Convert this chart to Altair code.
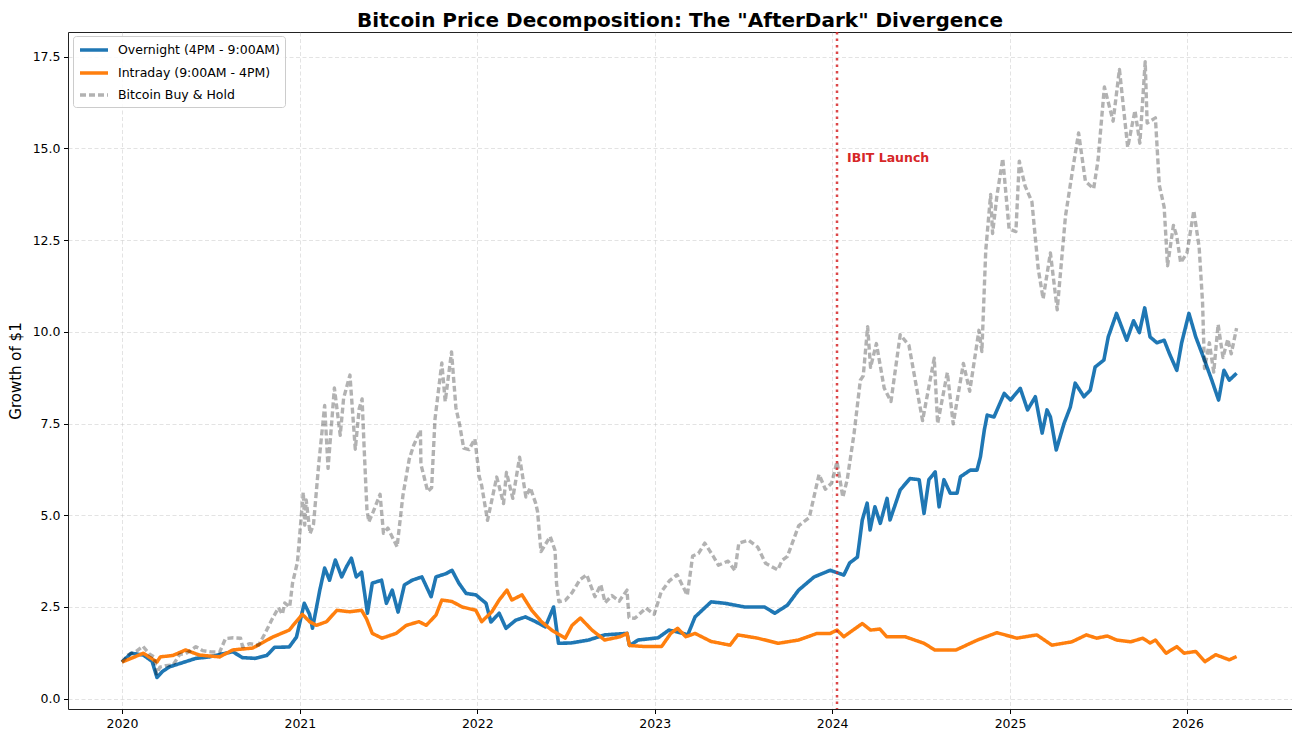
import altair as alt
import pandas as pd

# ---------------- data ----------------
series_names = ["Overnight (4PM - 9:00AM)", "Intraday (9:00AM - 4PM)", "Bitcoin Buy & Hold"]

overnight_dates = [
    "2020-01-01", "2020-01-20", "2020-02-14", "2020-03-03", "2020-03-13", "2020-03-25", "2020-04-08",
    "2020-05-11", "2020-06-01", "2020-06-29", "2020-07-25", "2020-08-16", "2020-09-05", "2020-10-01",
    "2020-10-25", "2020-11-10", "2020-12-10", "2020-12-25",
    "2021-01-10", "2021-01-21", "2021-01-27", "2021-02-11", "2021-02-21", "2021-03-03", "2021-03-15",
    "2021-03-28", "2021-04-07", "2021-04-17", "2021-04-27", "2021-05-08", "2021-05-20", "2021-05-30",
    "2021-06-18", "2021-06-28", "2021-07-10", "2021-07-22", "2021-08-04", "2021-08-20", "2021-09-09",
    "2021-09-28", "2021-10-08", "2021-10-29", "2021-11-10", "2021-11-24", "2021-12-09", "2021-12-29",
    "2022-01-19", "2022-01-29", "2022-02-15", "2022-03-01", "2022-03-21", "2022-04-10", "2022-05-01",
    "2022-05-21", "2022-06-07", "2022-06-17",
    "2022-07-13", "2022-08-18", "2022-09-20", "2022-11-05", "2022-11-10", "2022-11-28", "2023-01-08",
    "2023-01-30", "2023-02-17", "2023-03-10", "2023-03-25", "2023-04-27", "2023-05-26", "2023-07-05",
    "2023-08-15", "2023-09-05", "2023-10-01", "2023-10-24", "2023-11-25", "2023-12-28", "2024-01-25",
    "2024-02-06",
    "2024-02-22", "2024-03-03", "2024-03-13", "2024-03-19", "2024-03-29", "2024-04-09", "2024-04-23",
    "2024-04-29", "2024-05-20", "2024-06-09", "2024-06-28", "2024-07-08", "2024-07-18", "2024-07-31",
    "2024-08-08", "2024-08-18", "2024-08-31", "2024-09-14", "2024-09-21", "2024-10-11", "2024-10-25",
    "2024-11-01", "2024-11-09", "2024-11-15", "2024-11-29", "2024-12-20", "2025-01-02", "2025-01-22",
    "2025-02-06", "2025-02-22", "2025-03-08", "2025-03-18", "2025-03-25", "2025-04-06", "2025-04-22",
    "2025-05-05", "2025-05-15", "2025-06-02", "2025-06-15", "2025-06-25", "2025-07-13",
    "2025-07-22", "2025-08-08", "2025-08-29", "2025-09-12", "2025-09-24", "2025-10-05", "2025-10-16",
    "2025-10-30", "2025-11-14", "2025-11-25", "2025-12-10", "2025-12-20", "2026-01-04", "2026-01-18",
    "2026-02-03", "2026-02-20", "2026-03-06", "2026-03-17", "2026-03-28", "2026-04-12",
]
overnight_values = [
    1.00, 1.24, 1.19, 1.02, 0.58, 0.75, 0.87,
    1.01, 1.10, 1.14, 1.22, 1.28, 1.12, 1.10,
    1.18, 1.40, 1.41, 1.68,
    2.60, 2.30, 1.92, 2.96, 3.56, 3.23, 3.78,
    3.32, 3.60, 3.83, 3.32, 3.45, 2.33, 3.15,
    3.23, 2.60, 2.96, 2.36, 3.10, 3.23, 3.32,
    2.78, 3.32, 3.41, 3.50, 3.15, 2.87, 2.83,
    2.60, 2.09, 2.33, 1.92, 2.14, 2.23, 2.10,
    1.96, 2.50, 1.51,
    1.52, 1.60, 1.74, 1.78, 1.45, 1.60, 1.66,
    1.87, 1.82, 1.74, 2.23, 2.64, 2.60, 2.50,
    2.50, 2.33, 2.55, 2.96, 3.32, 3.50, 3.37,
    3.70,
    3.86, 4.87, 5.33, 4.60, 5.23, 4.78, 5.46,
    4.87, 5.69, 6.00, 5.97, 5.05, 5.97, 6.18,
    5.23, 5.97, 5.60, 5.60, 6.05, 6.23, 6.23,
    6.59, 7.32, 7.73, 7.68, 8.32, 8.14, 8.46,
    7.87, 8.23, 7.24, 7.87, 7.68, 6.78, 7.50,
    7.95, 8.60, 8.23, 8.41, 9.04, 9.23,
    9.86, 10.50, 9.77, 10.30, 9.98, 10.65, 9.86,
    9.70, 9.77, 9.40, 8.95, 9.70, 10.50, 9.86,
    9.30, 8.68, 8.14, 8.95, 8.68, 8.87,
]

intraday_dates = [
    "2020-01-01", "2020-01-20", "2020-02-14", "2020-03-13", "2020-03-20", "2020-04-15", "2020-05-11",
    "2020-06-08", "2020-07-20", "2020-08-16", "2020-09-26", "2020-11-06", "2020-12-10",
    "2021-01-06", "2021-01-21", "2021-02-04", "2021-02-25", "2021-03-18", "2021-04-13", "2021-05-08",
    "2021-05-18", "2021-05-30", "2021-06-19", "2021-07-18", "2021-08-08", "2021-09-03", "2021-09-18",
    "2021-10-08", "2021-10-20", "2021-11-10", "2021-12-01", "2021-12-29", "2022-01-10", "2022-01-31",
    "2022-02-15", "2022-03-03", "2022-03-13", "2022-04-03", "2022-04-23", "2022-05-13", "2022-06-03",
    "2022-07-01",
    "2022-07-15", "2022-08-01", "2022-08-25", "2022-09-20", "2022-10-22",
    "2022-11-05", "2022-11-10", "2022-12-15", "2023-01-15", "2023-02-03", "2023-02-17", "2023-03-06",
    "2023-03-25", "2023-04-27", "2023-06-05", "2023-06-21", "2023-08-01", "2023-09-12", "2023-10-24",
    "2023-12-01", "2023-12-28", "2024-01-11", "2024-01-25", "2024-03-03", "2024-03-20", "2024-04-08",
    "2024-04-22", "2024-05-30", "2024-07-08", "2024-07-30", "2024-09-12", "2024-10-26", "2024-12-05",
    "2025-01-15", "2025-02-25", "2025-03-28", "2025-05-08", "2025-06-07", "2025-06-28", "2025-07-20",
    "2025-08-08", "2025-09-06", "2025-10-01", "2025-10-16", "2025-10-27", "2025-11-18", "2025-12-10",
    "2025-12-25", "2026-01-18", "2026-02-06", "2026-02-28", "2026-03-28", "2026-04-12",
]
intraday_values = [
    1.00, 1.10, 1.24, 1.00, 1.14, 1.18, 1.33,
    1.19, 1.14, 1.33, 1.38, 1.68, 1.87,
    2.30, 2.10, 2.00, 2.10, 2.41, 2.37, 2.41,
    2.18, 1.78, 1.65, 1.78, 2.00, 2.10, 2.00,
    2.28, 2.69, 2.65, 2.50, 2.41, 2.10, 2.37,
    2.69, 2.96, 2.69, 2.83, 2.41, 2.10, 1.87,
    1.65,
    2.00, 2.20, 1.87, 1.60, 1.69,
    1.78, 1.45, 1.42, 1.42, 1.78, 1.92, 1.69,
    1.78, 1.56, 1.46, 1.74, 1.65, 1.51, 1.60,
    1.78, 1.78, 1.87, 1.69, 2.05, 1.87, 1.90,
    1.69, 1.69, 1.51, 1.33, 1.33, 1.60, 1.80,
    1.65, 1.74, 1.46, 1.55, 1.74, 1.65, 1.71,
    1.60, 1.55, 1.65, 1.52, 1.60, 1.24, 1.42,
    1.24, 1.29, 1.01, 1.20, 1.06, 1.15,
]

buyhold_dates = [
    "2020-01-01", "2020-01-14", "2020-01-31", "2020-02-13", "2020-02-27", "2020-03-08", "2020-03-12",
    "2020-03-19", "2020-03-31", "2020-04-15", "2020-04-29", "2020-05-10", "2020-05-20", "2020-06-01",
    "2020-06-15", "2020-07-01", "2020-07-20", "2020-08-01", "2020-08-17", "2020-09-01", "2020-09-05",
    "2020-09-20", "2020-10-08", "2020-10-21", "2020-11-05", "2020-11-18", "2020-11-26", "2020-12-01",
    "2020-12-11", "2020-12-17", "2020-12-27", "2021-01-08", "2021-01-11", "2021-01-14", "2021-01-22",
    "2021-01-29", "2021-02-09", "2021-02-21", "2021-02-28", "2021-03-13", "2021-03-25", "2021-04-01",
    "2021-04-14", "2021-04-25", "2021-05-03", "2021-05-09", "2021-05-13", "2021-05-19", "2021-05-23",
    "2021-06-01", "2021-06-15", "2021-06-22", "2021-07-01", "2021-07-20", "2021-08-01", "2021-08-14",
    "2021-08-23", "2021-09-06", "2021-09-07", "2021-09-21", "2021-09-29", "2021-10-06", "2021-10-20",
    "2021-10-27", "2021-11-09", "2021-11-18", "2021-11-26", "2021-12-04", "2021-12-15", "2021-12-27",
    "2022-01-05", "2022-01-10", "2022-01-22", "2022-02-10", "2022-02-24", "2022-03-02", "2022-03-15",
    "2022-03-29", "2022-04-11", "2022-04-20", "2022-05-01", "2022-05-05", "2022-05-12", "2022-05-31",
    "2022-06-10", "2022-06-13", "2022-06-18", "2022-07-01", "2022-07-15", "2022-07-31", "2022-08-14",
    "2022-08-31", "2022-09-12", "2022-09-21", "2022-10-05", "2022-10-20", "2022-11-05", "2022-11-09",
    "2022-11-21", "2022-12-14", "2022-12-31", "2023-01-14", "2023-01-31", "2023-02-16", "2023-03-09",
    "2023-03-20", "2023-04-01", "2023-04-14", "2023-05-01", "2023-05-12", "2023-06-01", "2023-06-15",
    "2023-06-23", "2023-07-13", "2023-08-01", "2023-08-17", "2023-09-11", "2023-09-20", "2023-10-01",
    "2023-10-24", "2023-11-15", "2023-12-05", "2023-12-18", "2023-12-31", "2024-01-11", "2024-01-23",
    "2024-02-01", "2024-02-15", "2024-02-28", "2024-03-05", "2024-03-14", "2024-03-20", "2024-04-01",
    "2024-04-17", "2024-05-01", "2024-05-20", "2024-06-07", "2024-06-24", "2024-07-05", "2024-07-29",
    "2024-08-05", "2024-08-25", "2024-09-06", "2024-09-27", "2024-10-10", "2024-10-29", "2024-11-04",
    "2024-11-12", "2024-11-22", "2024-11-26", "2024-12-05", "2024-12-17", "2024-12-30", "2025-01-13",
    "2025-01-20", "2025-02-01", "2025-02-15", "2025-02-28", "2025-03-10", "2025-03-25", "2025-04-08",
    "2025-04-25", "2025-05-10", "2025-05-22", "2025-06-05", "2025-06-22", "2025-07-01", "2025-07-14",
    "2025-08-01", "2025-08-14", "2025-08-31", "2025-09-15", "2025-09-25", "2025-10-06", "2025-10-10",
    "2025-10-27", "2025-11-04", "2025-11-14", "2025-11-21", "2025-12-03", "2025-12-10", "2025-12-18",
    "2025-12-31", "2026-01-14", "2026-01-25", "2026-02-01", "2026-02-05", "2026-02-15", "2026-02-24",
    "2026-03-05", "2026-03-15", "2026-03-25", "2026-04-01", "2026-04-12",
]
buyhold_values = [
    1.00, 1.20, 1.30, 1.43, 1.21, 1.13, 0.68,
    0.86, 0.90, 0.92, 1.21, 1.22, 1.30, 1.42,
    1.31, 1.28, 1.27, 1.64, 1.66, 1.65, 1.42,
    1.50, 1.46, 1.77, 2.17, 2.48, 2.30, 2.61,
    2.50, 3.16, 3.72, 5.63, 4.73, 5.42, 4.50,
    4.75, 6.42, 7.99, 6.28, 8.47, 7.18, 8.19,
    8.82, 6.80, 7.90, 8.17, 6.90, 5.14, 4.82,
    5.10, 5.57, 4.51, 4.65, 4.14, 5.54, 6.53,
    6.90, 7.32, 6.39, 5.65, 5.75, 7.62, 9.15,
    8.10, 9.45, 7.93, 7.44, 6.83, 6.79, 7.08,
    6.06, 5.81, 4.86, 6.04, 5.32, 6.17, 5.46,
    6.58, 5.50, 5.75, 5.33, 5.10, 4.01, 4.42,
    4.04, 3.14, 2.64, 2.68, 2.89, 3.24, 3.38,
    2.78, 3.11, 2.62, 2.81, 2.66, 2.96, 2.21,
    2.19, 2.47, 2.30, 2.90, 3.21, 3.38, 2.82,
    3.89, 3.96, 4.24, 3.89, 3.64, 3.75, 3.49,
    4.24, 4.32, 4.13, 3.69, 3.51, 3.77, 3.88,
    4.71, 4.94, 6.11, 5.71, 5.88, 6.46, 5.49,
    5.97, 7.22, 8.68, 8.80, 10.14, 9.03, 9.68,
    8.47, 8.10, 9.92, 9.63, 8.38, 7.58, 9.28,
    7.50, 8.89, 7.49, 9.14, 8.38, 10.04, 9.46,
    12.22, 13.74, 12.68, 13.71, 14.72, 12.80, 12.73,
    14.65, 13.97, 13.54, 11.71, 10.90, 12.15, 10.60,
    13.15, 14.44, 15.42, 14.10, 13.90, 14.68, 16.67,
    15.74, 17.15, 15.03, 16.03, 15.14, 17.36, 15.69,
    15.83, 14.00, 13.40, 11.80, 12.90, 12.60, 11.88,
    12.15, 13.30, 12.30, 10.80, 9.00, 9.70, 8.90,
    10.20, 9.30, 9.80, 9.40, 10.10,
]

y_ticks = [0.0, 2.5, 5.0, 7.5, 10.0, 12.5, 15.0, 17.5]
x_tick_years = [2020, 2021, 2022, 2023, 2024, 2025, 2026]
event_dates = ["2024-01-11"]
event_labels = ["IBIT Launch"]
event_label_y = [14.73]

# ---------------- build tables ----------------
frames = []
for name, d, v in zip(series_names,
                      [overnight_dates, intraday_dates, buyhold_dates],
                      [overnight_values, intraday_values, buyhold_values]):
    frames.append(pd.DataFrame({"date": d, "value": v, "series": name}))
df = pd.concat(frames, ignore_index=True)
events = pd.DataFrame({"date": event_dates, "label": event_labels, "y": event_label_y})

FONT = "DejaVu Sans"

legend = alt.Legend(
    title=None, orient="none", legendX=5, legendY=4,
    symbolType="M-1,0H3", symbolSize=196, labelOffset=22, labelLimit=400,
    labelFontSize=12.5, labelColor="#000", labelFont=FONT,
    fillColor="rgba(255,255,255,0.85)", strokeColor="#cccccc", cornerRadius=3,
    padding=5, rowPadding=6,
)

x_enc = alt.X(
    "date:T", title=None,
    scale=alt.Scale(type="utc",
                    domain=[alt.DateTime(year=2019, month=9, date=12, utc=True),
                            alt.DateTime(year=2026, month=8, date=4, utc=True)]),
    axis=alt.Axis(values=[alt.DateTime(year=y, month=1, date=1, utc=True) for y in x_tick_years],
                  format="%Y", formatType="utc"),
)
y_enc = alt.Y(
    "value:Q", title="Growth of $1",
    scale=alt.Scale(domain=[-0.28, 18.17], nice=False, zero=False),
    axis=alt.Axis(values=y_ticks, format=".1f", titlePadding=9),
)
color_enc = alt.Color("series:N",
                      scale=alt.Scale(domain=series_names, range=["#1f77b4", "#ff7f0e", "rgba(0,0,0,0.3)"]),
                      legend=legend)
dash_enc = alt.StrokeDash("series:N", scale=alt.Scale(domain=series_names, range=[[1, 0], [1, 0], [6, 3]]), legend=legend)
width_enc = alt.StrokeWidth("series:N", scale=alt.Scale(domain=series_names, range=[3.6, 3.4, 2.2]), legend=legend)

def series_layer(name):
    return (
        alt.Chart(df)
        .transform_filter(alt.datum.series == name)
        .mark_line(strokeJoin="round", strokeCap="butt")
        .encode(x=x_enc, y=y_enc, color=color_enc, strokeDash=dash_enc, strokeWidth=width_enc)
    )

rule = alt.Chart(events).mark_rule(color="#d62728", strokeDash=[2.5, 4], strokeWidth=2.5, opacity=0.85).encode(
    x=alt.X("date:T")
)
label = alt.Chart(events).mark_text(
    align="left", baseline="middle", dx=10, fontWeight="bold", fontSize=12.5, font=FONT, color="#d62728"
).encode(x=alt.X("date:T"), y=alt.Y("y:Q"), text="label:N")

chart = (
    alt.layer(series_layer(series_names[0]), series_layer(series_names[1]), series_layer(series_names[2]), rule, label)
    .properties(
        width=1224, height=677,
        title=alt.TitleParams('Bitcoin Price Decomposition: The "AfterDark" Divergence',
                              fontSize=20, fontWeight="bold", font=FONT, color="#000",
                              anchor="middle", offset=0),
        autosize=alt.AutoSizeParams(type="none"),
        padding={"left": 60, "top": 24, "right": 0, "bottom": 20},
        background="white",
    )
    .configure_view(stroke="#222", strokeWidth=1)
    .configure_axis(
        labelFont=FONT, labelFontSize=12.5, labelColor="#000",
        titleFont=FONT, titleFontSize=15, titleFontWeight="normal", titleColor="#000",
        tickColor="#000", tickSize=4.5, labelPadding=3.5, domain=False,
        grid=True, gridColor="#b0b0b0", gridOpacity=0.45, gridDash=[4, 2.5], gridWidth=0.8,
    )
)

chart.save("out.html", embed_options={"renderer": "svg", "actions": False})
